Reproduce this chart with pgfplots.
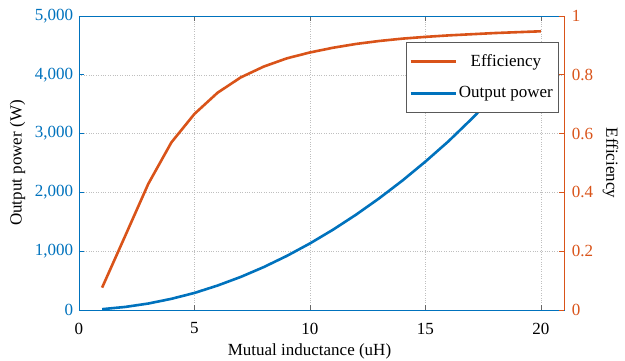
\documentclass[border=0pt]{standalone}
\usepackage{fontspec}
\setmainfont{Liberation Serif}
\usepackage{pgfplots}
\pgfplotsset{compat=1.18}
\definecolor{mblue}{HTML}{0072BD}
\definecolor{morange}{HTML}{D95319}
\pgfplotstableread{
M P
1 14
2 52
3 110
4 190
5 290
6 416
7 562
8 730
9 920
10 1132
11 1366
12 1622
13 1900
14 2200
15 2524
16 2870
17 3250
18 3650
19 4070
20 4500
}\powertab
\pgfplotstableread{
M E
1 0.076
2 0.252
3 0.429
4 0.570
5 0.667
6 0.739
7 0.791
8 0.828
9 0.856
10 0.876
11 0.892
12 0.905
13 0.915
14 0.923
15 0.929
16 0.934
17 0.938
18 0.942
19 0.945
20 0.948
}\efftab
\begin{document}
\fontsize{17}{20}\selectfont
\begin{tikzpicture}
\begin{axis}[
  at={(0pt,0pt)}, anchor=south west,
  scale only axis, width=485pt, height=294pt,
  xmin=0, xmax=21, ymin=0, ymax=5000,
  xtick={0,5,10,15,20},
  ytick={0,1000,2000,3000,4000,5000},
  scaled y ticks=false,
  /pgf/number format/assume math mode=true,
  /pgf/number format/1000 sep={,},
  tick align=inside,
  major tick length=5pt,
  ytick pos=left,
  xtick pos=both,
  grid=major,
  major grid style={dotted, gray!50, line width=0.5pt},
  x axis line style={gray!80!black, line width=0.6pt},
  y axis line style={mblue, line width=0.6pt},
  x tick style={gray!80!black, line width=0.6pt},
  y tick style={mblue, line width=0.6pt},
  tick label style={font=\fontsize{17}{20}\selectfont},
  y tick label style={mblue},
  x tick label style={black, yshift=-7pt},
  label style={font=\fontsize{17}{20}\selectfont},
  xlabel={Mutual inductance (uH)},
  ylabel={Output power (W)},
  xlabel style={yshift=2pt, xshift=-12pt},
  ylabel style={yshift=-2pt},
]
\addplot[mblue, line width=2.6pt] table[x=M, y=P] {\powertab};
\end{axis}
\begin{axis}[
  at={(0pt,0pt)}, anchor=south west,
  scale only axis, width=485pt, height=294pt,
  xmin=0, xmax=21, ymin=0, ymax=1,
  axis x line=none,
  axis y line*=right,
  ytick={0,0.2,0.4,0.6,0.8,1},
  yticklabels={0,0.2,0.4,0.6,0.8,1},
  tick align=inside,
  major tick length=5pt,
  y axis line style={morange, line width=0.6pt},
  y tick style={morange, line width=0.6pt},
  tick label style={font=\fontsize{17}{20}\selectfont},
  y tick label style={morange, xshift=2pt},
  label style={font=\fontsize{17}{20}\selectfont},
  ylabel={Efficiency},
  ylabel style={rotate=180, yshift=-2pt},
  legend style={at={(0.988,0.912)}, anchor=north east, draw=gray!70!black,
    line width=0.6pt, fill=white, font=\fontsize{17}{20}\selectfont,
    row sep=14pt, inner xsep=3pt, inner ysep=10pt},
  legend cell align=center,
  legend image code/.code={\draw[#1] (0pt,0pt) -- (45pt,0pt);},
]
\addplot[morange, line width=2.6pt] table[x=M, y=E] {\efftab};
\addlegendentry{Efficiency}
\addlegendimage{mblue, line width=2.6pt}
\addlegendentry{Output power}
\end{axis}
\pgfresetboundingbox
\path[use as bounding box] (-79pt,-51pt) rectangle (546pt,310pt);
\end{tikzpicture}
\end{document}
